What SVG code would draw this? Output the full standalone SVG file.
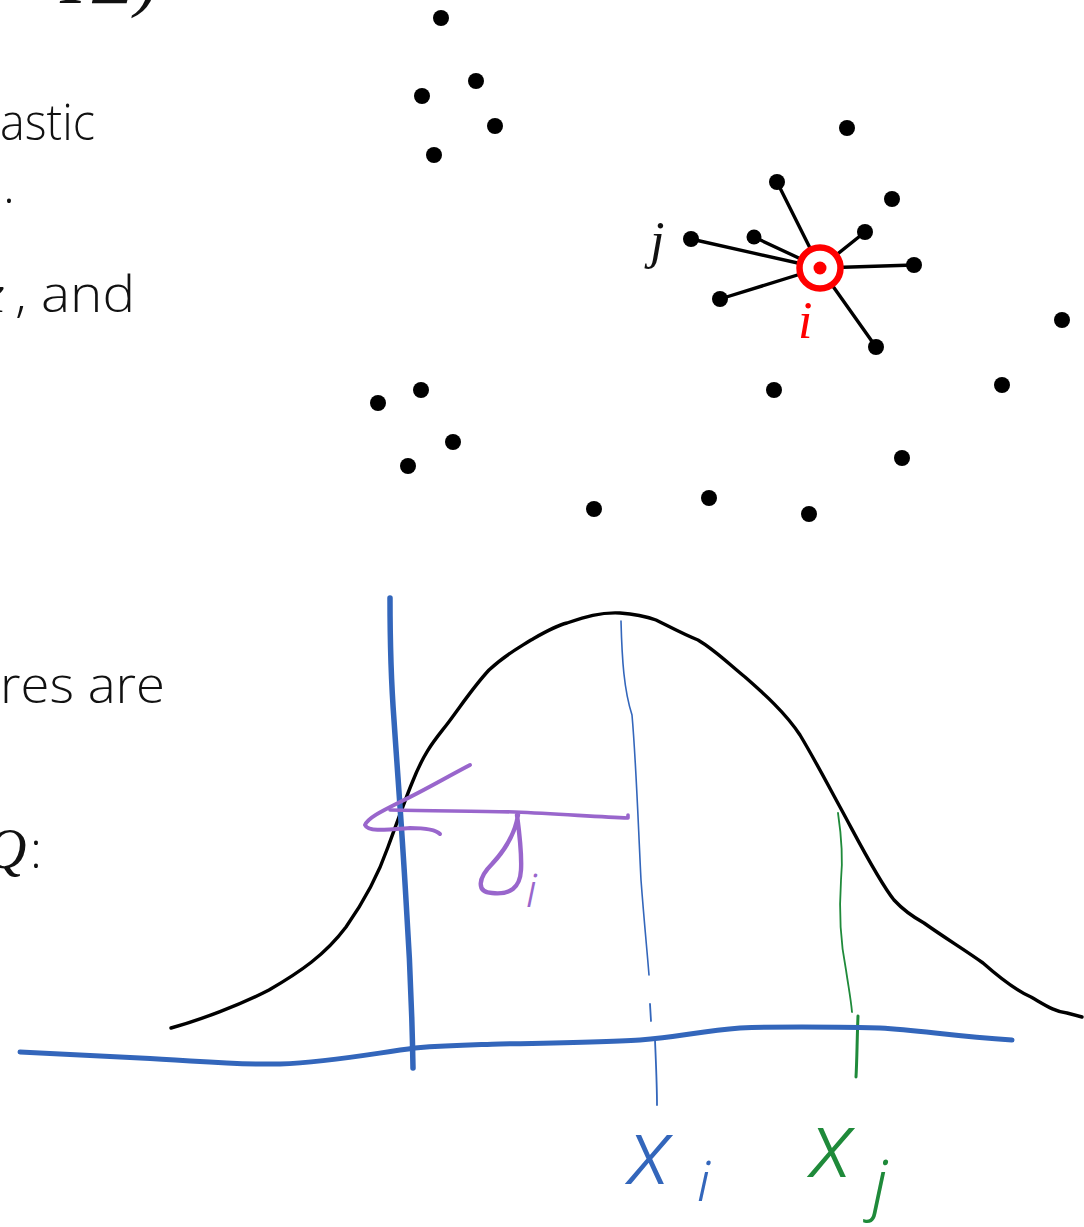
<svg xmlns="http://www.w3.org/2000/svg" width="1084" height="1227" viewBox="0 0 1084 1227">
<style>
.body{font-family:"Open Sans","Noto Sans","Liberation Sans",sans-serif;font-weight:300;font-size:50px;fill:#111}
.math{font-family:"Liberation Serif","DejaVu Serif",serif;font-style:italic;fill:#111}
.dot{fill:#000}
.edge{stroke:#000;stroke-width:3.4;stroke-linecap:round}
.ink{fill:none;stroke-linecap:round;stroke-linejoin:round}
.hand{font-family:"Noto Sans","DejaVu Sans",sans-serif;font-style:italic;font-weight:300}
</style>
<rect width="1084" height="1227" fill="#fff"/>
<!-- cropped slide text -->
<g id="slide-text">
<text class="math" x="60" y="3" font-size="80" font-style="normal">I</text>
<text class="math" x="92" y="3" font-size="72" font-style="normal">Σ)</text>
<text class="body" x="0" y="140" textLength="95" lengthAdjust="spacingAndGlyphs">astic</text>
<text class="body" x="3" y="203">.</text>
<text class="math" x="-20" y="312" font-size="54">x</text>
<text class="body" x="15" y="312" textLength="120" lengthAdjust="spacingAndGlyphs">, and</text>
<text class="body" x="0" y="703" textLength="165" lengthAdjust="spacingAndGlyphs">res are</text>
<text class="math" x="-14" y="868" font-size="56">Q</text>
<text class="body" x="30" y="868">:</text>
</g>
<!-- connectors -->
<g id="connectors">
<line class="edge" x1="820" y1="268" x2="777" y2="182"/>
<line class="edge" x1="820" y1="268" x2="754" y2="237"/>
<line class="edge" x1="820" y1="268" x2="691" y2="239"/>
<line class="edge" x1="820" y1="268" x2="720" y2="299"/>
<line class="edge" x1="820" y1="268" x2="865" y2="232"/>
<line class="edge" x1="820" y1="268" x2="914" y2="265"/>
<line class="edge" x1="820" y1="268" x2="876" y2="347"/>
</g>
<!-- nodes -->
<g id="nodes">
<g id="n1"><circle class="dot" cx="441" cy="18" r="8"/></g>
<g id="n2"><circle class="dot" cx="476" cy="81" r="8"/></g>
<g id="n3"><circle class="dot" cx="422" cy="96" r="8"/></g>
<g id="n4"><circle class="dot" cx="495" cy="126" r="8"/></g>
<g id="n5"><circle class="dot" cx="434" cy="155" r="8"/></g>
<g id="n6"><circle class="dot" cx="378" cy="403" r="8"/></g>
<g id="n7"><circle class="dot" cx="421" cy="390" r="8"/></g>
<g id="n8"><circle class="dot" cx="453" cy="442" r="8"/></g>
<g id="n9"><circle class="dot" cx="408" cy="466" r="8"/></g>
<g id="n10"><circle class="dot" cx="594" cy="509" r="8"/></g>
<g id="n11"><circle class="dot" cx="709" cy="498" r="8"/></g>
<g id="n12"><circle class="dot" cx="809" cy="514" r="8"/></g>
<g id="n13"><circle class="dot" cx="774" cy="390" r="8"/></g>
<g id="n14"><circle class="dot" cx="902" cy="458" r="8"/></g>
<g id="n15"><circle class="dot" cx="1002" cy="385" r="8"/></g>
<g id="n16"><circle class="dot" cx="1062" cy="320" r="8"/></g>
<g id="n17"><circle class="dot" cx="847" cy="128" r="8"/></g>
<g id="n18"><circle class="dot" cx="892" cy="199" r="8"/></g>
<g id="nb1"><circle class="dot" cx="777" cy="182" r="8"/></g>
<g id="nb2"><circle class="dot" cx="754" cy="237" r="7.5"/></g>
<g id="node-j"><circle class="dot" cx="691" cy="239" r="8"/><text class="math" x="650" y="258" font-size="52">j</text></g>
<g id="nb4"><circle class="dot" cx="720" cy="299" r="8"/></g>
<g id="nb5"><circle class="dot" cx="865" cy="232" r="8"/></g>
<g id="nb6"><circle class="dot" cx="914" cy="265" r="8"/></g>
<g id="nb7"><circle class="dot" cx="876" cy="347" r="8"/></g>
<g id="node-i"><circle cx="820" cy="268" r="20.5" fill="#fff" stroke="#ff0000" stroke-width="6.5"/><circle cx="820" cy="268" r="6.5" fill="#ff0000"/><text class="math" x="798" y="338" font-size="52" fill="#ff0000" style="fill:#ff0000">i</text></g>
</g>
<!-- hand-drawn gaussian sketch -->
<g id="sketch">
<path class="ink" stroke="#000" stroke-width="3.4" d="M171,1028 C200,1020 240,1005 269,990 C300,972 325,955 346,927 C365,900 380,870 388,847 C398,820 405,800 412,783 C425,750 435,740 448,723 C465,700 475,685 489,670 C505,655 515,650 531,640 C545,632 555,626 567,623 C585,617 600,612 620,613 C635,614 645,616 656,620 C672,628 685,635 698,640 C715,650 730,665 745,677 C762,692 785,712 800,735 C815,760 828,785 840,807 C858,840 878,880 894,900 C905,912 915,918 924,923 C945,938 965,950 983,963 C1000,978 1015,990 1031,997 C1045,1005 1055,1012 1067,1013 L1082,1017"/>
<path class="ink" stroke="#3366bb" stroke-width="5.5" d="M390,598 C390,640 391,680 394,720 C398,780 402,830 406,900 C410,960 412,1010 413,1068"/>
<path class="ink" stroke="#3366bb" stroke-width="1.6" d="M621,621 C622,660 624,690 632,715 C636,760 638,820 641,880 C644,920 647,950 649,975"/>
<path class="ink" stroke="#3366bb" stroke-width="1.8" d="M650,1004 L651,1021"/>
<path class="ink" stroke="#3366bb" stroke-width="1.8" d="M655,1040 C656,1065 657,1085 657,1105"/>
<path class="ink" stroke="#1f8a3a" stroke-width="1.8" d="M838,813 C842,840 843,860 841,880 C839,910 840,940 846,970 C849,990 851,1000 852,1012"/>
<path class="ink" stroke="#1f8a3a" stroke-width="3" d="M858,1016 C857,1040 857,1060 856,1077"/>
<path class="ink" stroke="#3366bb" stroke-width="5" d="M20,1052 C60,1054 100,1056 140,1058 C200,1061 240,1065 280,1064 C330,1062 370,1054 415,1048 C450,1045 470,1045 500,1044 C560,1043 610,1042 640,1040 C680,1037 700,1031 740,1028 C790,1026 840,1027 880,1028 C920,1030 950,1036 1012,1040"/>
<path class="ink" stroke="#9966cc" stroke-width="4" d="M470,765 C445,778 425,790 400,802 C380,812 368,818 365,825 C368,832 385,830 410,828 C425,828 436,830 440,834"/>
<path class="ink" stroke="#9966cc" stroke-width="3.6" d="M390,810 C440,811 480,811 515,812 C560,814 600,817 628,818 L628,815"/>
<path class="ink" stroke="#9966cc" stroke-width="4.4" d="M518,815 C515,835 505,850 492,864 C478,878 476,892 492,893 C510,895 520,888 521,870 C522,852 519,830 517,815"/>
<text class="hand" x="526" y="907" font-size="46" fill="#9966cc">i</text>
<text class="hand" x="628" y="1184" font-size="92" fill="#3366bb">x</text>
<text class="hand" x="697" y="1201" font-size="56" fill="#3366bb">i</text>
<text class="hand" x="810" y="1177" font-size="92" fill="#1f8a3a" font-weight="400">x</text>
<text class="hand" x="872" y="1207" font-size="66" fill="#1f8a3a" font-weight="400">j</text>
</g>
</svg>
